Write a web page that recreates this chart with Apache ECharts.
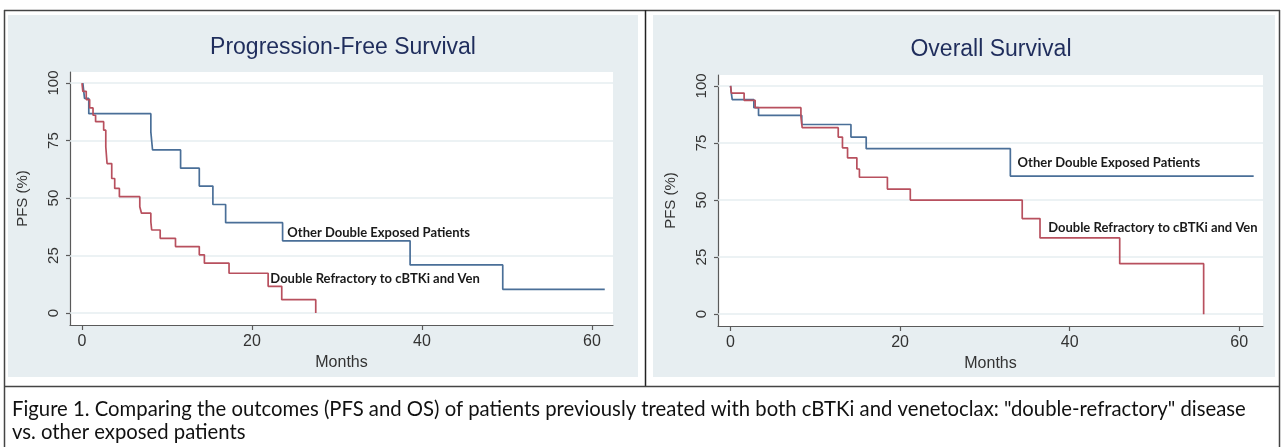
<!DOCTYPE html>
<html>
<head>
<meta charset="utf-8">
<script src="https://cdn.jsdelivr.net/npm/echarts@6/dist/echarts.min.js"></script>
<style>
html,body{margin:0;padding:0;background:#fff;}
#chart{width:1282px;height:447px;}
</style>
</head>
<body>
<div id="chart"></div>
<script>
// ---- Data ----
const pfsOtherMonths = [0.1, 0.3, 0.8, 8.1, 8.3, 11.6, 13.8, 15.4, 16.9, 23.6, 38.6, 49.5, 61.5];
const pfsOtherPct    = [100, 93.3, 86.7, 78.8, 70.9, 63.0, 55.2, 47.2, 39.3, 31.4, 20.9, 10.3, 10.3];

const pfsRefMonths = [0, 0.1, 0.5, 0.9, 1.3, 1.6, 2.55, 2.8, 2.95, 3.5, 3.85, 4.4, 6.8, 7.0, 8.1, 8.2, 9.2, 11.0, 13.8, 14.4, 17.3, 21.9, 23.5, 27.5];
const pfsRefPct    = [100, 96.4, 92.8, 89.2, 86.0, 83.2, 79.5, 72.3, 65.0, 58.5, 54.2, 50.6, 46.2, 43.4, 39.7, 36.1, 32.5, 28.9, 25.3, 21.7, 17.3, 11.6, 5.8, 0];

const osOtherMonths = [0, 0.1, 0.2, 2.75, 3.3, 8.4, 14.2, 16.0, 33.0, 61.7];
const osOtherPct    = [100, 96.6, 94.0, 90.5, 87.1, 83.1, 77.6, 72.5, 60.5, 60.5];

const osRefMonths = [0, 0.1, 1.6, 2.9, 8.3, 8.45, 12.7, 13.2, 13.8, 14.9, 15.2, 18.5, 21.2, 34.4, 36.5, 45.9, 55.8];
const osRefPct    = [100, 96.9, 93.7, 90.5, 86.6, 81.7, 77.6, 72.9, 68.5, 63.6, 60.0, 54.8, 50.0, 41.9, 33.4, 22.1, 0];

const xTicks = [0, 20, 40, 60];
const yTicks = [0, 25, 50, 75, 100];

const panelTitles = ['Progression-Free Survival', 'Overall Survival'];
const seriesNames = ['Other Double Exposed Patients', 'Double Refractory to cBTKi and Ven'];
const yAxisTitle = 'PFS (%)';
const xAxisTitle = 'Months';
const captionLines = [
  'Figure 1. Comparing the outcomes (PFS and OS) of patients previously treated with both cBTKi and venetoclax: "double-refractory" disease',
  'vs. other exposed patients'
];
// label anchor points [month, pct] per panel
const labelAnchorsPFS = [[24.1, 35.0], [22.1, 14.8]];
const labelAnchorsOS  = [[33.8, 66.2], [37.4, 38.0]];

// ---- Styling ----
const BLUE = '#4a6f98';
const RED = '#b8505e';
const PANEL_BG = '#e7eef1';
const AXIS = '#5a5a5a';
const GRIDLINE = '#e6eef0';
const SANS = '"Liberation Sans", Arial, sans-serif';
const CAL = 'Lato, "Open Sans", sans-serif';

const pairs = (xs, ys) => xs.map((x, i) => [x, ys[i]]);

function xAxisFor(gi, min, max) {
  return {
    type: 'value', gridIndex: gi, min: min, max: max,
    axisLine: { show: true, onZero: false, lineStyle: { color: AXIS, width: 1.2 } },
    axisTick: { show: true, customValues: xTicks, length: 5, lineStyle: { color: AXIS, width: 1.2 } },
    axisLabel: { show: true, customValues: xTicks, fontSize: 16, color: '#333', margin: 9, fontFamily: SANS },
    splitLine: { show: false },
    name: xAxisTitle, nameLocation: 'middle', nameGap: 28,
    nameTextStyle: { fontSize: 16, color: '#333', fontFamily: SANS }
  };
}
function yAxisFor(gi) {
  return {
    type: 'value', gridIndex: gi, min: -5.2, max: 104.8,
    axisLine: { show: true, onZero: false, lineStyle: { color: AXIS, width: 1.2 } },
    axisTick: { show: true, customValues: yTicks, length: 4, lineStyle: { color: AXIS, width: 1.2 } },
    axisLabel: { show: true, customValues: yTicks, rotate: 90, fontSize: 15, color: '#333', margin: 9, fontFamily: SANS },
    splitLine: { show: false },
    name: yAxisTitle, nameLocation: 'middle', nameGap: 40, nameRotate: 90,
    nameTextStyle: { fontSize: 15, color: '#333', fontFamily: SANS }
  };
}
function gridLines(gi) {
  return {
    type: 'line', xAxisIndex: gi, yAxisIndex: gi, data: [], silent: true, z: 1,
    markLine: {
      silent: true, symbol: 'none', animation: false, z: 1,
      label: { show: false },
      lineStyle: { color: GRIDLINE, width: 1.5, type: 'solid' },
      data: yTicks.map(v => ({ yAxis: v }))
    }
  };
}
function curve(gi, name, data, color, anchor) {
  return {
    type: 'line', name: name, xAxisIndex: gi, yAxisIndex: gi, step: 'end',
    data: data, showSymbol: false, symbol: 'none', z: 6,
    lineStyle: { color: color, width: 1.7 }, itemStyle: { color: color },
    markPoint: {
      symbol: 'circle', symbolSize: 1, silent: true, animation: false, z: 7,
      itemStyle: { color: 'rgba(0,0,0,0)' },
      label: {
        show: true, position: 'right', distance: 0, formatter: name,
        fontFamily: CAL, fontWeight: 'bold', fontSize: 13, color: '#1a1a1a'
      },
      data: [{ coord: anchor }]
    }
  };
}

const chart = echarts.init(document.getElementById('chart'), null, { renderer: 'canvas' });
chart.setOption({
  animation: false,
  backgroundColor: '#ffffff',
  title: [
    { text: panelTitles[0], left: 338, top: 31, textAlign: 'center',
      textStyle: { fontFamily: SANS, fontSize: 23, fontWeight: 'normal', color: '#1f2d5c' } },
    { text: panelTitles[1], left: 986, top: 33, textAlign: 'center',
      textStyle: { fontFamily: SANS, fontSize: 23, fontWeight: 'normal', color: '#1f2d5c' } }
  ],
  grid: [
    { left: 70, top: 72, width: 543, height: 253, show: true, backgroundColor: '#ffffff', borderWidth: 0 },
    { left: 718, top: 75, width: 545, height: 251, show: true, backgroundColor: '#ffffff', borderWidth: 0 }
  ],
  xAxis: [xAxisFor(0, -1.41, 62.47), xAxisFor(1, -1.48, 62.8)],
  yAxis: [yAxisFor(0), yAxisFor(1)],
  series: [
    gridLines(0), gridLines(1),
    curve(0, seriesNames[0], pairs(pfsOtherMonths, pfsOtherPct), BLUE, labelAnchorsPFS[0]),
    curve(0, seriesNames[1], pairs(pfsRefMonths, pfsRefPct), RED, labelAnchorsPFS[1]),
    curve(1, seriesNames[0], pairs(osOtherMonths, osOtherPct), BLUE, labelAnchorsOS[0]),
    curve(1, seriesNames[1], pairs(osRefMonths, osRefPct), RED, labelAnchorsOS[1])
  ],
  graphic: [
    { type: 'rect', z: -100, silent: true, shape: { x: 8, y: 15, width: 630, height: 362 }, style: { fill: PANEL_BG } },
    { type: 'rect', z: -100, silent: true, shape: { x: 653, y: 15, width: 622, height: 362 }, style: { fill: PANEL_BG } },
    { type: 'line', z: 50, silent: true, shape: { x1: 4, y1: 10.5, x2: 1280, y2: 10.5 }, style: { stroke: '#444', lineWidth: 1.5 } },
    { type: 'line', z: 50, silent: true, shape: { x1: 4.5, y1: 10, x2: 4.5, y2: 447 }, style: { stroke: '#444', lineWidth: 1.5 } },
    { type: 'line', z: 50, silent: true, shape: { x1: 1279.5, y1: 10, x2: 1279.5, y2: 447 }, style: { stroke: '#444', lineWidth: 1.5 } },
    { type: 'line', z: 50, silent: true, shape: { x1: 645.5, y1: 10, x2: 645.5, y2: 386 }, style: { stroke: '#222', lineWidth: 1.5 } },
    { type: 'line', z: 50, silent: true, shape: { x1: 4, y1: 386.5, x2: 1280, y2: 386.5 }, style: { stroke: '#444', lineWidth: 1.5 } },
    { type: 'text', z: 50, silent: true, left: 12, top: 398,
      style: { text: captionLines.join('\n'), fontFamily: CAL, fontSize: 20.3, lineHeight: 23, fill: '#111' } }
  ]
});
</script>
</body>
</html>
